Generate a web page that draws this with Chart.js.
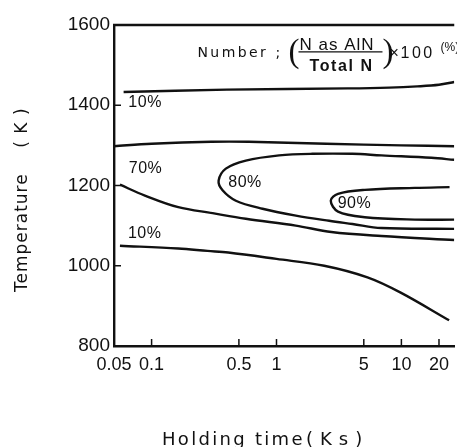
<!DOCTYPE html>
<html>
<head>
<meta charset="utf-8">
<script src="https://cdn.jsdelivr.net/npm/chart.js@4.4.1/dist/chart.umd.min.js"></script>
<style>
  html, body { margin: 0; padding: 0; background: #fff; }
  #wrap { width: 457px; height: 447px; }
</style>
</head>
<body>
<div id="wrap"><canvas id="chart" width="457" height="447"></canvas></div>
<script>
// holding time axis (Ks), logarithmic
var xTicks = [0.05, 0.1, 0.5, 1, 5, 10, 20];
var xTickLabels = ['0.05', '0.1', '0.5', '1', '5', '10', '20'];
var yTicks = [800, 1000, 1200, 1400, 1600];
var yTickLabels = ['800', '1000', '1200', '1400', '1600'];

// contour lines: holding time (Ks) / temperature (K)
var upper10Time = [0.0597, 0.4, 3.7, 8, 13.4, 20, 26.5];
var upper10Temp = [1433, 1439, 1442, 1444, 1447, 1451, 1458];

var line70Time = [0.05, 0.1, 0.3, 0.6, 2.5, 10, 26.5];
var line70Temp = [1298, 1304, 1309, 1309, 1304, 1300, 1298];

var loop80Time = [26.5, 17.4, 6.92, 4.06, 1.94, 1.05, 0.568, 0.393, 0.344, 0.370, 0.473, 0.773, 1.43, 2.64, 4.06, 6.92, 26.5];
var loop80Temp = [1264, 1269, 1275, 1279, 1279, 1275, 1262, 1242, 1212, 1188, 1162, 1142, 1125, 1112, 1104, 1094, 1092];

var loop90Time = [24.3, 12.8, 5.09, 3.11, 2.72, 3.11, 5.09, 12.8, 26.5];
var loop90Temp = [1196, 1194, 1189, 1179, 1162, 1135, 1121, 1115, 1115];

var fallTime = [0.0558, 0.0884, 0.1636, 0.308, 0.568, 1.427, 2.75, 6.92, 26.5];
var fallTemp = [1202, 1175, 1146, 1131, 1117, 1100, 1084, 1074, 1064];

var lower10Time = [0.0558, 0.1636, 0.28, 0.411, 1.0, 2.41, 5.35, 9.87, 24.1];
var lower10Temp = [1050, 1043, 1037, 1033, 1017, 1000, 971, 933, 864];

// contour labels
var labelTexts = ['10%', '70%', '80%', '90%', '10%'];
var labelTimes = [0.0887, 0.0895, 0.56, 4.21, 0.088];
var labelTemps = [1406, 1243, 1208, 1155, 1080];

// where the "Number ; ..." note starts
var noteTime = 0.233;
var noteTemp = 1533;

var ink = '#111';

function pts(xs, ys) {
    return xs.map(function(v, i) { return {x: v, y: ys[i]}; });
}

function contour(xs, ys) {
    return {data: pts(xs, ys), showLine: true, borderColor: ink, borderWidth: 2.4,
            pointRadius: 0, fill: false, tension: 0.35};
}

function spaced(ctx, text, x, y, sp) {
    ctx.letterSpacing = sp + 'px';
    ctx.fillText(text, x, y);
    ctx.letterSpacing = '0px';
}

var decor = {
    id: 'decor',
    afterDraw: function(chart) {
        var ctx = chart.ctx, a = chart.chartArea;
        var sx = chart.scales.x, sy = chart.scales.y;
        ctx.save();
        ctx.strokeStyle = ink;
        ctx.fillStyle = ink;

        // top edge of the frame
        ctx.lineWidth = 2.4;
        ctx.beginPath();
        ctx.moveTo(a.left - 1, a.top);
        ctx.lineTo(a.right, a.top);
        ctx.stroke();

        // tick marks pointing inward
        ctx.lineWidth = 1.5;
        xTicks.slice(1).forEach(function(v) {
            var px = sx.getPixelForValue(v);
            ctx.beginPath();
            ctx.moveTo(px, a.bottom);
            ctx.lineTo(px, a.bottom - 7);
            ctx.stroke();
        });
        yTicks.slice(1, -1).forEach(function(v) {
            var py = sy.getPixelForValue(v);
            ctx.beginPath();
            ctx.moveTo(a.left, py);
            ctx.lineTo(a.left + 7, py);
            ctx.stroke();
        });

        // contour labels
        ctx.font = '16px "Liberation Sans"';
        ctx.textAlign = 'center';
        ctx.textBaseline = 'middle';
        labelTexts.forEach(function(t, i) {
            spaced(ctx, t, sx.getPixelForValue(labelTimes[i]), sy.getPixelForValue(labelTemps[i]), 0.5);
        });

        // note: Number ; (N as AlN / Total N) x 100 (%)
        var nx = sx.getPixelForValue(noteTime), ny = sy.getPixelForValue(noteTemp);
        ctx.textAlign = 'left';
        ctx.textBaseline = 'alphabetic';
        ctx.font = '14px "DejaVu Sans"';
        spaced(ctx, 'Number', nx, ny + 5, 2.4);
        ctx.fillText(';', nx + 78, ny + 5);
        ctx.font = '33px "Liberation Serif"';
        ctx.fillText('(', nx + 91, ny + 10);
        ctx.fillText(')', nx + 185, ny + 10);
        ctx.font = '17px "Liberation Sans"';
        spaced(ctx, 'N as AlN', nx + 102, ny - 2, 1);
        ctx.font = 'bold 16px "Liberation Sans"';
        spaced(ctx, 'Total N', nx + 112, ny + 19, 1.6);
        ctx.lineWidth = 1.4;
        ctx.beginPath();
        ctx.moveTo(nx + 101, ny);
        ctx.lineTo(nx + 185, ny);
        ctx.stroke();
        ctx.font = '16px "Liberation Sans"';
        ctx.fillText('\u00d7', nx + 192, ny + 6);
        spaced(ctx, '100', nx + 203, ny + 6, 2.5);
        ctx.font = '12px "Liberation Sans"';
        ctx.fillText('(%)', nx + 243, ny - 1);

        // axis titles
        ctx.font = '17px "DejaVu Sans"';
        ctx.save();
        ctx.translate(27, 292);
        ctx.rotate(-Math.PI / 2);
        spaced(ctx, 'Temperature    ( K )', 0, 0, 1);
        ctx.restore();
        ctx.font = '18px "DejaVu Sans"';
        spaced(ctx, 'Holding time', 162, 445, 2.3);
        spaced(ctx, '(Ks)', 306, 445, 7);

        ctx.restore();
    }
};

new Chart(document.getElementById('chart'), {
    type: 'scatter',
    data: {
        datasets: [
            contour(upper10Time, upper10Temp),
            contour(line70Time, line70Temp),
            contour(loop80Time, loop80Temp),
            contour(loop90Time, loop90Temp),
            contour(fallTime, fallTemp),
            contour(lower10Time, lower10Temp)
        ]
    },
    options: {
        responsive: false,
        animation: false,
        layout: {padding: {top: 25, right: 0, left: 0, bottom: 0}},
        plugins: {legend: {display: false}, tooltip: {enabled: false}},
        scales: {
            x: {
                type: 'logarithmic',
                min: 0.05,
                max: 26.5,
                afterBuildTicks: function(s) { s.ticks = xTicks.map(function(v) { return {value: v}; }); },
                afterFit: function(s) { s.height = 101; },
                grid: {drawOnChartArea: false, drawTicks: false},
                border: {display: true, color: ink, width: 2.4},
                ticks: {
                    autoSkip: false, maxRotation: 0, padding: 8, color: ink,
                    font: {family: 'Liberation Sans', size: 18},
                    callback: function(v, i) { return xTickLabels[i]; }
                }
            },
            y: {
                min: 800,
                max: 1600,
                afterBuildTicks: function(s) { s.ticks = yTicks.map(function(v) { return {value: v}; }); },
                afterFit: function(s) { s.width = 114; },
                grid: {drawOnChartArea: false, drawTicks: false},
                border: {display: true, color: ink, width: 2.4},
                ticks: {
                    padding: 4, color: ink,
                    font: {family: 'Liberation Sans', size: 19},
                    callback: function(v, i) { return yTickLabels[i]; }
                }
            }
        }
    },
    plugins: [decor]
});
</script>
</body>
</html>
